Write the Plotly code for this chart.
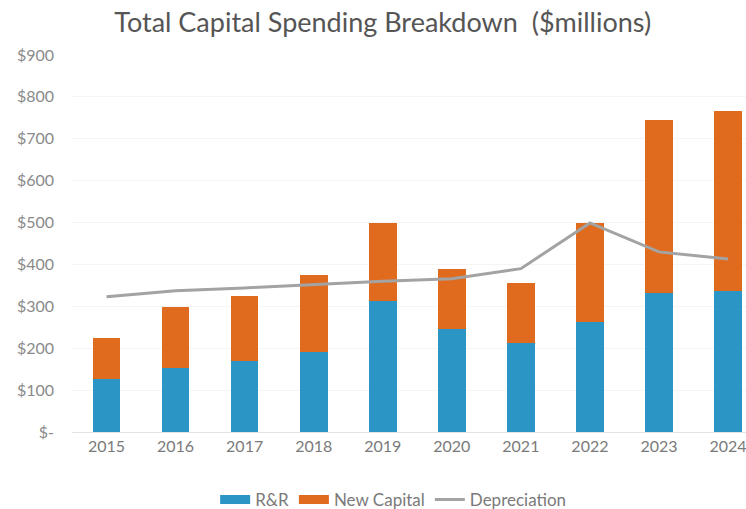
import plotly.graph_objects as go

years = ["2015", "2016", "2017", "2018", "2019", "2020", "2021", "2022", "2023", "2024"]
rr = [127, 152, 170, 190, 313, 246, 212, 262, 332, 337]
new_capital = [98, 147, 155, 185, 187, 142, 144, 237, 413, 429]
depreciation = [323, 337, 344, 352, 360, 366, 390, 499, 430, 413]

y_ticks = [0, 100, 200, 300, 400, 500, 600, 700, 800, 900]
y_tick_text = ["$-", "$100", "$200", "$300", "$400", "$500", "$600", "$700", "$800", "$900"]

blue = "#2B95C6"
orange = "#E06A1E"
grey = "#A3A3A3"

fig = go.Figure()
fig.add_trace(go.Bar(x=years, y=rr, name="R&R", showlegend=False,
                     marker=dict(color=blue, line=dict(width=0))))
fig.add_trace(go.Bar(x=years, y=new_capital, name="New Capital", showlegend=False,
                     marker=dict(color=orange, line=dict(width=0))))
fig.add_trace(go.Scatter(x=years, y=depreciation, name="Depreciation", mode="lines",
                         showlegend=False, line=dict(color=grey, width=3)))

# legend entries with wide rectangular keys
fig.add_trace(go.Scatter(x=[None], y=[None], name="R&R", mode="lines", line=dict(color=blue, width=9)))
fig.add_trace(go.Scatter(x=[None], y=[None], name="New Capital", mode="lines", line=dict(color=orange, width=9)))
fig.add_trace(go.Scatter(x=[None], y=[None], name="Depreciation", mode="lines", line=dict(color=grey, width=3)))

fig.update_layout(
    width=746, height=509,
    barmode="stack", bargap=0.6,
    paper_bgcolor="white", plot_bgcolor="white",
    margin=dict(l=72, r=0, t=55, b=77),
    font=dict(family="Lato, Open Sans, sans-serif", color="#7A7A7A"),
    title=dict(text="Total Capital Spending Breakdown  ($millions)", x=0.513, xanchor="center",
               y=0.955, yanchor="middle", yref="container",
               font=dict(size=27, color="#555555", family="Lato, Open Sans, sans-serif")),
    xaxis=dict(range=[-0.5, 9.26], showgrid=False, showline=True, linecolor="#E4E4E4",
               tickfont=dict(size=16, color="#7A7A7A"), ticks="", fixedrange=True),
    yaxis=dict(range=[0, 900], tickvals=y_ticks, ticktext=y_tick_text, showgrid=True,
               gridcolor="#F5F5F5", zeroline=False, tickfont=dict(size=16, color="#8A8A8A"),
               ticklabelstandoff=17),
    legend=dict(orientation="h", xref="container", x=0.527, xanchor="center",
                yref="container", y=0.053, yanchor="top", font=dict(size=17, color="#7A7A7A"),
                traceorder="normal"),
    showlegend=True,
)

fig.write_html("out.html")
